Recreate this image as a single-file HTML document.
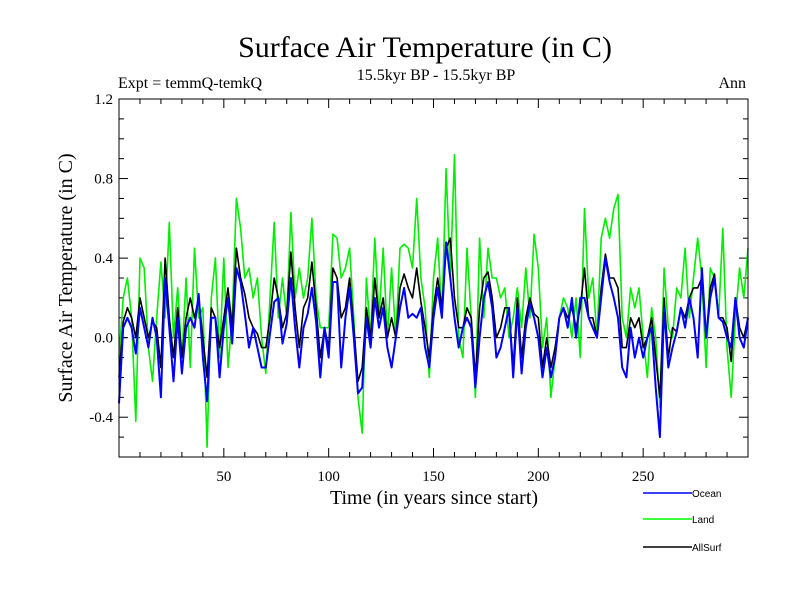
<!DOCTYPE html>
<html><head><meta charset="utf-8"><style>
body{margin:0;background:#fff}
svg{display:block}
.s{font-family:"Liberation Serif",serif}
.a{font-family:"Liberation Sans",sans-serif}
</style></head><body>
<svg id="c" width="800" height="600" viewBox="0 0 800 600">
<text class="s" x="425" y="57" font-size="30" text-anchor="middle">Surface Air Temperature (in C)</text>
<text class="s" x="118" y="88" font-size="16">Expt = temmQ-temkQ</text>
<text class="s" x="436" y="80" font-size="16" text-anchor="middle">15.5kyr BP - 15.5kyr BP</text>
<text class="s" x="746" y="88" font-size="16" text-anchor="end">Ann</text>
<text class="s" transform="translate(72,278) rotate(-90)" font-size="20" text-anchor="middle">Surface Air Temperature (in C)</text>
<text class="s" x="434" y="504" font-size="20" text-anchor="middle">Time (in years since start)</text>
<g id="axes"></g>
<g id="series"></g>
<rect x="119" y="99" width="629" height="358" fill="none" stroke="#000" stroke-width="1"/>
<g>
<line x1="643" y1="493" x2="692" y2="493" stroke="#0000ff" stroke-width="1.5"/>
<text class="a" x="692" y="497" font-size="10">Ocean</text>
<line x1="643" y1="519" x2="692" y2="519" stroke="#00ff00" stroke-width="1.5"/>
<text class="a" x="692" y="523" font-size="10">Land</text>
<line x1="643" y1="547" x2="692" y2="547" stroke="#000" stroke-width="1.5"/>
<text class="a" x="692" y="551" font-size="10">AllSurf</text>
</g>
</svg>
<script>
const xTicks=[50,100,150,200,250];
const yTicks=[-0.4,0.0,0.4,0.8,1.2];
const yTickLabels=["-0.4","0.0","0.4","0.8","1.2"];
const years=[];for(let y=0;y<=300;y+=2)years.push(y);
const ocean=[-0.33,0.05,0.1,0.05,-0.08,0.15,0.05,-0.05,0.1,0.0,-0.3,0.3,0.05,-0.22,0.1,-0.18,0.05,0.1,0.05,0.22,-0.1,-0.32,0.1,0.1,-0.2,0.05,0.2,-0.03,0.35,0.28,0.12,-0.05,0.05,-0.05,-0.15,-0.15,0.02,0.18,0.2,-0.03,0.07,0.3,0.05,-0.15,0.05,0.12,0.25,0.08,-0.2,0.05,
-0.1,0.28,0.28,-0.15,0.1,0.25,0.0,-0.28,-0.25,0.1,-0.05,0.2,0.05,0.15,-0.05,-0.15,0.0,0.15,0.25,0.1,0.12,0.1,0.15,-0.05,-0.15,0.1,0.25,0.1,0.48,0.3,0.1,-0.05,0.05,0.1,0.05,-0.25,0.0,0.2,0.28,0.15,-0.1,-0.05,0.05,0.15,-0.2,0.15,-0.18,0.05,0.17,0.1,
0.0,-0.2,-0.05,-0.2,-0.1,0.1,0.15,0.05,0.2,0.0,0.2,0.2,0.1,0.05,0.0,0.2,0.4,0.28,0.2,0.1,-0.15,-0.2,0.05,-0.1,0.0,-0.1,0.0,0.05,-0.25,-0.5,0.15,-0.15,-0.05,0.03,0.15,0.05,0.2,0.1,-0.1,0.35,0.0,0.2,0.3,0.1,0.08,0.0,-0.05,0.2,0.0,-0.05,0.1];
const land=[-0.1,0.2,0.3,0.1,-0.42,0.4,0.35,-0.05,-0.22,0.1,0.38,0.1,0.58,0.0,0.25,-0.1,0.3,-0.15,0.45,0.1,0.15,-0.55,0.2,0.4,-0.1,0.4,-0.15,0.1,0.7,0.55,0.3,0.35,0.2,0.3,0.0,-0.18,0.2,0.58,0.1,0.3,0.1,0.63,0.2,0.35,0.2,0.3,0.6,0.2,0.05,0.05,
0.05,0.52,0.5,0.3,0.35,0.45,0.1,-0.3,-0.48,0.3,0.0,0.5,0.1,0.45,0.0,0.35,0.0,0.45,0.47,0.45,0.35,0.7,0.3,0.15,-0.2,0.3,0.5,0.1,0.85,0.3,0.92,0.0,-0.1,0.45,0.1,-0.3,0.5,0.1,0.45,0.3,0.3,0.2,0.25,0.0,0.1,0.25,0.05,0.35,0.1,0.52,
0.35,-0.05,0.1,-0.3,-0.1,0.1,0.2,0.15,0.0,0.2,-0.1,0.65,0.2,0.3,0.0,0.5,0.6,0.5,0.65,0.72,0.1,0.0,0.25,0.15,0.25,0.0,-0.2,0.15,0.0,-0.35,0.35,0.05,0.0,0.25,0.2,0.45,0.1,0.3,0.5,0.3,-0.15,0.35,0.3,0.1,0.55,-0.05,-0.3,0.1,0.35,0.2,0.45];
const allsurf=[-0.2,0.08,0.15,0.1,0.0,0.2,0.1,0.0,0.08,0.05,-0.15,0.4,0.1,-0.1,0.15,-0.1,0.1,0.2,0.1,0.2,0.0,-0.2,0.15,0.1,-0.05,0.1,0.25,0.05,0.45,0.3,0.22,0.1,0.05,0.02,-0.05,-0.05,0.1,0.3,0.2,0.05,0.12,0.43,0.15,-0.05,0.15,0.2,0.38,0.15,-0.1,0.05,
-0.05,0.35,0.3,0.1,0.15,0.3,0.05,-0.22,-0.15,0.15,0.0,0.3,0.1,0.2,0.0,0.1,0.0,0.25,0.32,0.25,0.2,0.35,0.18,0.05,-0.1,0.15,0.3,0.15,0.45,0.5,0.2,0.05,0.05,0.15,0.1,-0.2,0.15,0.3,0.33,0.2,0.0,0.05,0.15,0.15,-0.15,0.2,-0.1,0.1,0.2,0.12,
0.1,-0.15,0.0,-0.15,-0.05,0.1,0.15,0.1,0.15,0.05,0.15,0.35,0.1,0.1,0.0,0.25,0.42,0.3,0.3,0.25,-0.05,-0.05,0.1,0.05,0.1,-0.05,0.0,0.1,-0.1,-0.3,0.2,-0.1,0.05,0.03,0.15,0.1,0.2,0.25,0.25,0.3,0.0,0.25,0.32,0.1,0.1,0.05,-0.12,0.2,0.05,0.0,0.1];
const NS='http://www.w3.org/2000/svg';
const X0=119,X1=748,Y0=457,Y1=99;
function sx(v){return X0+(v-0)/(300-0)*(X1-X0);}
function sy(v){return Y0-(v+0.6)/(1.8)*(Y0-Y1);}
function mk(tag,attrs,parent){const e=document.createElementNS(NS,tag);for(const k in attrs)e.setAttribute(k,attrs[k]);parent.appendChild(e);return e;}
const ax=document.getElementById('axes');
for(let t=10;t<300;t+=10){
  const big=t%50===0,len=big?9:5;
  const l1=mk('line',{x1:sx(t),x2:sx(t),y1:Y0,y2:Y0-len,stroke:'#000'},ax);
  
  
  const l2=mk('line',{x1:sx(t),x2:sx(t),y1:Y1,y2:Y1+len,stroke:'#000'},ax);
  
  
}
xTicks.forEach(t=>{
  const tx=mk('text',{x:sx(t),y:Y0+24,'font-size':15,'text-anchor':'middle',class:'s'},ax);tx.textContent=t;
  
  
});
for(let i=-5;i<=11;i++){
  const v=i/10,big=(i%4===0),len=big?9:5;
  const l1=mk('line',{x1:X0,x2:X0+len,y1:sy(v),y2:sy(v),stroke:'#000'},ax);
  
  
  const l2=mk('line',{x1:X1,x2:X1-len,y1:sy(v),y2:sy(v),stroke:'#000'},ax);
  
  
}
yTicks.forEach((t,i)=>{
  const tx=mk('text',{x:X0-6,y:sy(t)+5,'font-size':15,'text-anchor':'end',class:'s'},ax);tx.textContent=yTickLabels[i];
  
  
});
const zl=mk('line',{x1:X0,x2:X1,y1:sy(0),y2:sy(0),stroke:'#000','stroke-dasharray':'8,5','stroke-width':1},ax);


const sg=document.getElementById('series');
function line(vals,color,w,name){
  const d=vals.map((v,i)=>(i?'L':'M')+sx(years[i]).toFixed(1)+','+sy(v).toFixed(1)).join('');
  const p=mk('path',{d:d,fill:'none',stroke:color,'stroke-width':w,'stroke-linejoin':'round'},sg);
  
  
}
line(land,'#00ee00',1.6,'land-series');
line(allsurf,'#000000',1.6,'allsurf-series');
line(ocean,'#0000ff',2,'ocean-series');
</script>
</body></html>
